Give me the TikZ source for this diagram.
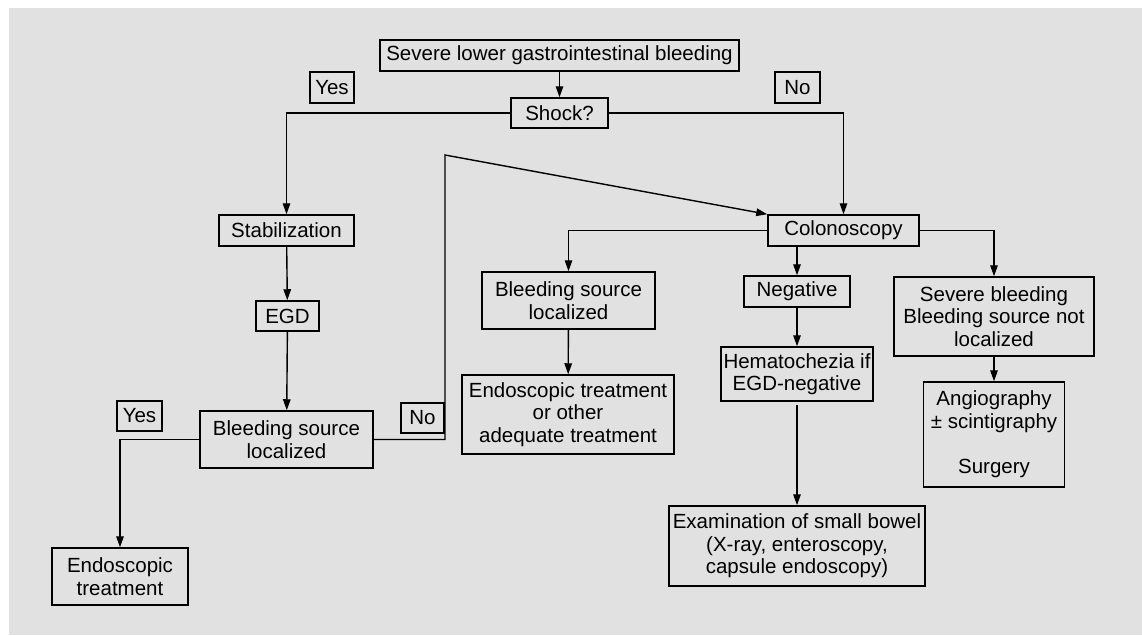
\documentclass[tikz,border=0pt]{standalone}
\usepackage{fontspec}
\setmainfont{Liberation Sans}
\usetikzlibrary{arrows.meta}
\definecolor{panel}{RGB}{225,225,225}
\begin{document}
\begin{tikzpicture}[x=1pt, y=-1pt,
    box/.style={draw, line width=1.5pt, align=center, inner sep=0pt,
        font=\fontsize{20.5}{22.5}\selectfont},
    arr/.style={-{Triangle[length=11pt,width=7.5pt]}, line width=1.4pt}]
    % Background panel
    \useasboundingbox (0,0) rectangle (1142,635);
    \fill[panel] (9,8) rectangle (1142,635);

    % Top of the chart
    \node[box, minimum width=359, minimum height=31] (SEV) at (559.5,55.5) {Severe lower gastrointestinal bleeding};
    \node[box, minimum width=97, minimum height=30] (SHK) at (559.5,113) {Shock?};
    \node[box, minimum width=44, minimum height=31] (Y1) at (332,87.5) {Yes};
    \node[box, minimum width=45, minimum height=31] (N1) at (797.5,87.5) {No};

    % Left branch (shock)
    \node[box, minimum width=135, minimum height=31] (STB) at (286.5,230.5) {Stabilization};
    \node[box, minimum width=63, minimum height=30] (EGD) at (287.5,316) {EGD};
    \node[box, minimum width=173, minimum height=57] (BSL) at (286.5,439.5) {Bleeding source\\localized};
    \node[box, minimum width=45, minimum height=30] (Y2) at (139.5,416) {Yes};
    \node[box, minimum width=43, minimum height=30] (N2) at (422.5,418) {No};
    \node[box, minimum width=136, minimum height=57] (ENT) at (120,576.5) {Endoscopic\\treatment};

    % Right branch (colonoscopy)
    \node[box, minimum width=151, minimum height=31] (COL) at (843.5,230.5) {Colonoscopy};
    \node[box, minimum width=173, minimum height=57] (BSM) at (568.5,300.5) {Bleeding source\\localized};
    \node[box, minimum width=212, minimum height=79] (EOT) at (568,414.5) {Endoscopic treatment\\or other\\adequate treatment};
    \node[box, minimum width=106, minimum height=31] (NEG) at (797,291.5) {Negative};
    \node[box, minimum width=152, minimum height=54] (HEM) at (797,374) {Hematochezia if\\EGD-negative};
    \node[box, minimum width=256, minimum height=80] (EXA) at (797,546) {Examination of small bowel\\(X-ray, enteroscopy,\\capsule endoscopy)};
    \node[box, minimum width=200, minimum height=79] (SVB) at (994,316.5) {Severe bleeding\\Bleeding source not\\localized};
    \node[box, minimum width=141, minimum height=105] (ANG) at (994,434.5) {Angiography\\± scintigraphy\\[23pt]Surgery};

    % Bend of the "No" path back to colonoscopy
    \coordinate (T) at (445,155);

    % Connectors
    \draw[arr] (SEV) -- (SHK);
    \draw[arr] (SHK.west) -| (STB.north);
    \draw[arr] (SHK.east) -| (COL.north);
    \draw[arr] (STB) -- (EGD);
    \draw[arr] (EGD) -- (BSL);
    \draw[arr] (BSL.west) -| (ENT.north);
    \draw[arr] (BSL.east) -| (T) -- (COL.north west);
    \draw[arr] (COL.west) -| (BSM.north);
    \draw[arr] (BSM) -- (EOT);
    \draw[arr] (NEG.north |- COL.south) -- (NEG.north);
    \draw[arr] (NEG) -- (HEM);
    \draw[arr, shorten <=3pt] (HEM) -- (EXA);
    \draw[arr] (COL.east) -| (SVB.north);
    \draw[arr] (SVB) -- (ANG);
\end{tikzpicture}
\end{document}
